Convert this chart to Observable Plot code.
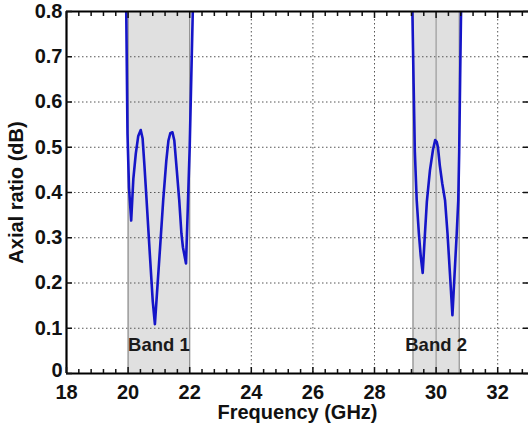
<!DOCTYPE html>
<html><head><meta charset="utf-8">
<script src="https://cdn.jsdelivr.net/npm/d3@7"></script>
<script src="https://cdn.jsdelivr.net/npm/@observablehq/plot@0.6"></script>
<style>body{margin:0;background:#fff}</style>
</head><body><div id="chart"></div>
<script>
// Band 1 curve
const freq1 = [19.94, 19.98, 20.03, 20.1, 20.17, 20.25, 20.33, 20.41, 20.47, 20.53, 20.6, 20.7, 20.8, 20.87, 20.94, 21.04, 21.14, 21.24, 21.31, 21.37, 21.44, 21.5, 21.58, 21.66, 21.73, 21.78, 21.88, 21.94, 22.0, 22.05, 22.1];
const ar1 = [0.80, 0.53, 0.41, 0.338, 0.43, 0.486, 0.525, 0.538, 0.52, 0.46, 0.383, 0.27, 0.16, 0.109, 0.18, 0.28, 0.383, 0.47, 0.515, 0.531, 0.533, 0.515, 0.45, 0.383, 0.31, 0.279, 0.243, 0.37, 0.5, 0.65, 0.80];
// Band 2 curve
const freq2 = [29.23, 29.27, 29.31, 29.37, 29.44, 29.5, 29.565, 29.63, 29.7, 29.8, 29.9, 29.97, 30.02, 30.06, 30.12, 30.2, 30.29, 30.37, 30.45, 30.53, 30.6, 30.67, 30.72, 30.75, 30.78, 30.81];
const ar2 = [0.80, 0.64, 0.49, 0.383, 0.31, 0.26, 0.222, 0.30, 0.38, 0.449, 0.495, 0.516, 0.512, 0.50, 0.46, 0.42, 0.383, 0.31, 0.22, 0.129, 0.22, 0.31, 0.383, 0.49, 0.65, 0.80];
// Bands
const bandNames = ["Band 1", "Band 2"];
const bandStart = [20, 29.25];
const bandEnd = [22, 30.75];
// Ticks
const xTicks = [18, 20, 22, 24, 26, 28, 30, 32];
const yTicks = [0, 0.1, 0.2, 0.3, 0.4, 0.5, 0.6, 0.7, 0.8];
const yTickLabels = ["0", "0.1", "0.2", "0.3", "0.4", "0.5", "0.6", "0.7", "0.8"];
const xMinor = d3.range(0, 38).map(i => +(18 + i * 0.4).toFixed(1)).filter(v => v <= 33 && !xTicks.includes(v));

const curve = [
  ...freq1.map((f, i) => ({band: "Band 1", f, a: ar1[i]})),
  ...freq2.map((f, i) => ({band: "Band 2", f, a: ar2[i]}))
];
const bands = bandNames.map((name, i) => ({name, start: bandStart[i], end: bandEnd[i], mid: (bandStart[i] + bandEnd[i]) / 2}));
const inBand = t => bands.some(b => t > b.start && t < b.end);
const onEdge = t => bands.some(b => t === b.start || t === b.end);
const edges = bands.flatMap(b => [b.start, b.end]);
const labelOf = d => yTickLabels[yTicks.indexOf(d)];

const chart = Plot.plot({
  width: 528, height: 428,
  marginLeft: 66, marginRight: 0, marginTop: 11, marginBottom: 55,
  style: {fontFamily: "'Liberation Sans', Arial, sans-serif", fontSize: "20px", fontWeight: "bold", color: "#111", background: "#fff"},
  x: {domain: [18, 33]},
  y: {domain: [0, 0.8]},
  marks: [
    Plot.rect(bands, {x1: "start", x2: "end", fill: "#e0e0e0"}),
    Plot.gridY(yTicks.filter(t => t > 0 && t < 0.8), {stroke: "#555", strokeOpacity: 1, strokeWidth: 1, strokeDasharray: "1.5,2.5"}),
    Plot.gridX(xTicks.filter(t => t > 18 && !inBand(t) && !onEdge(t)), {stroke: "#555", strokeOpacity: 1, strokeWidth: 1, strokeDasharray: "1.5,2.5"}),
    Plot.ruleX(xTicks.filter(t => inBand(t)), {stroke: "#9a9a9a", strokeWidth: 1.2}),
    Plot.ruleX(edges, {stroke: "#8a8a8a", strokeWidth: 1.2}),
    Plot.line(curve, {x: "f", y: "a", z: "band", stroke: "#1515c8", strokeWidth: 2.6, clip: true}),
    Plot.text(bands, {x: "mid", text: "name", frameAnchor: "bottom", dy: -23, fill: "#1a1a1a", fontSize: 18.5, fontWeight: "bold"}),
    // axis lines
    Plot.ruleX([18], {stroke: "#000", strokeWidth: 2.2}),
    Plot.ruleY([0, 0.8], {stroke: "#000", strokeWidth: 2.2}),
    // x axis labels + ticks
    Plot.axisX(xTicks, {tickSize: 0, tickPadding: 11, fill: "#111", label: "Frequency (GHz)", labelAnchor: "center", labelArrow: "none", labelOffset: 45, fontSize: 20}),
    Plot.axisX(xTicks, {tickSize: -6, tickFormat: () => "", label: null, strokeWidth: 1.5}),
    Plot.axisX(xMinor, {tickSize: -4, tickFormat: () => "", label: null, strokeWidth: 1.5}),
    Plot.axisX(xTicks, {anchor: "top", tickSize: -6, tickFormat: () => "", label: null, strokeWidth: 1.5}),
    Plot.axisX(xMinor, {anchor: "top", tickSize: -4, tickFormat: () => "", label: null, strokeWidth: 1.5}),
    // y axis labels + ticks
    Plot.axisY(yTicks.slice(1), {tickSize: 0, tickPadding: 4, tickFormat: labelOf, fill: "#111", label: "Axial ratio (dB)", labelAnchor: "center", labelArrow: "none", labelOffset: 58, fontSize: 20}),
    Plot.axisY(yTicks.slice(0, 1), {tickSize: 0, tickPadding: 4, tickFormat: labelOf, fill: "#111", label: null, fontSize: 20, dy: -3}),
    Plot.axisY(yTicks, {tickSize: -6, tickFormat: () => "", label: null, strokeWidth: 1.5}),
    Plot.axisY(yTicks, {anchor: "right", tickSize: -6, tickFormat: () => "", label: null, strokeWidth: 1.5})
  ]
});
document.getElementById("chart").appendChild(chart);
</script>
</body></html>
